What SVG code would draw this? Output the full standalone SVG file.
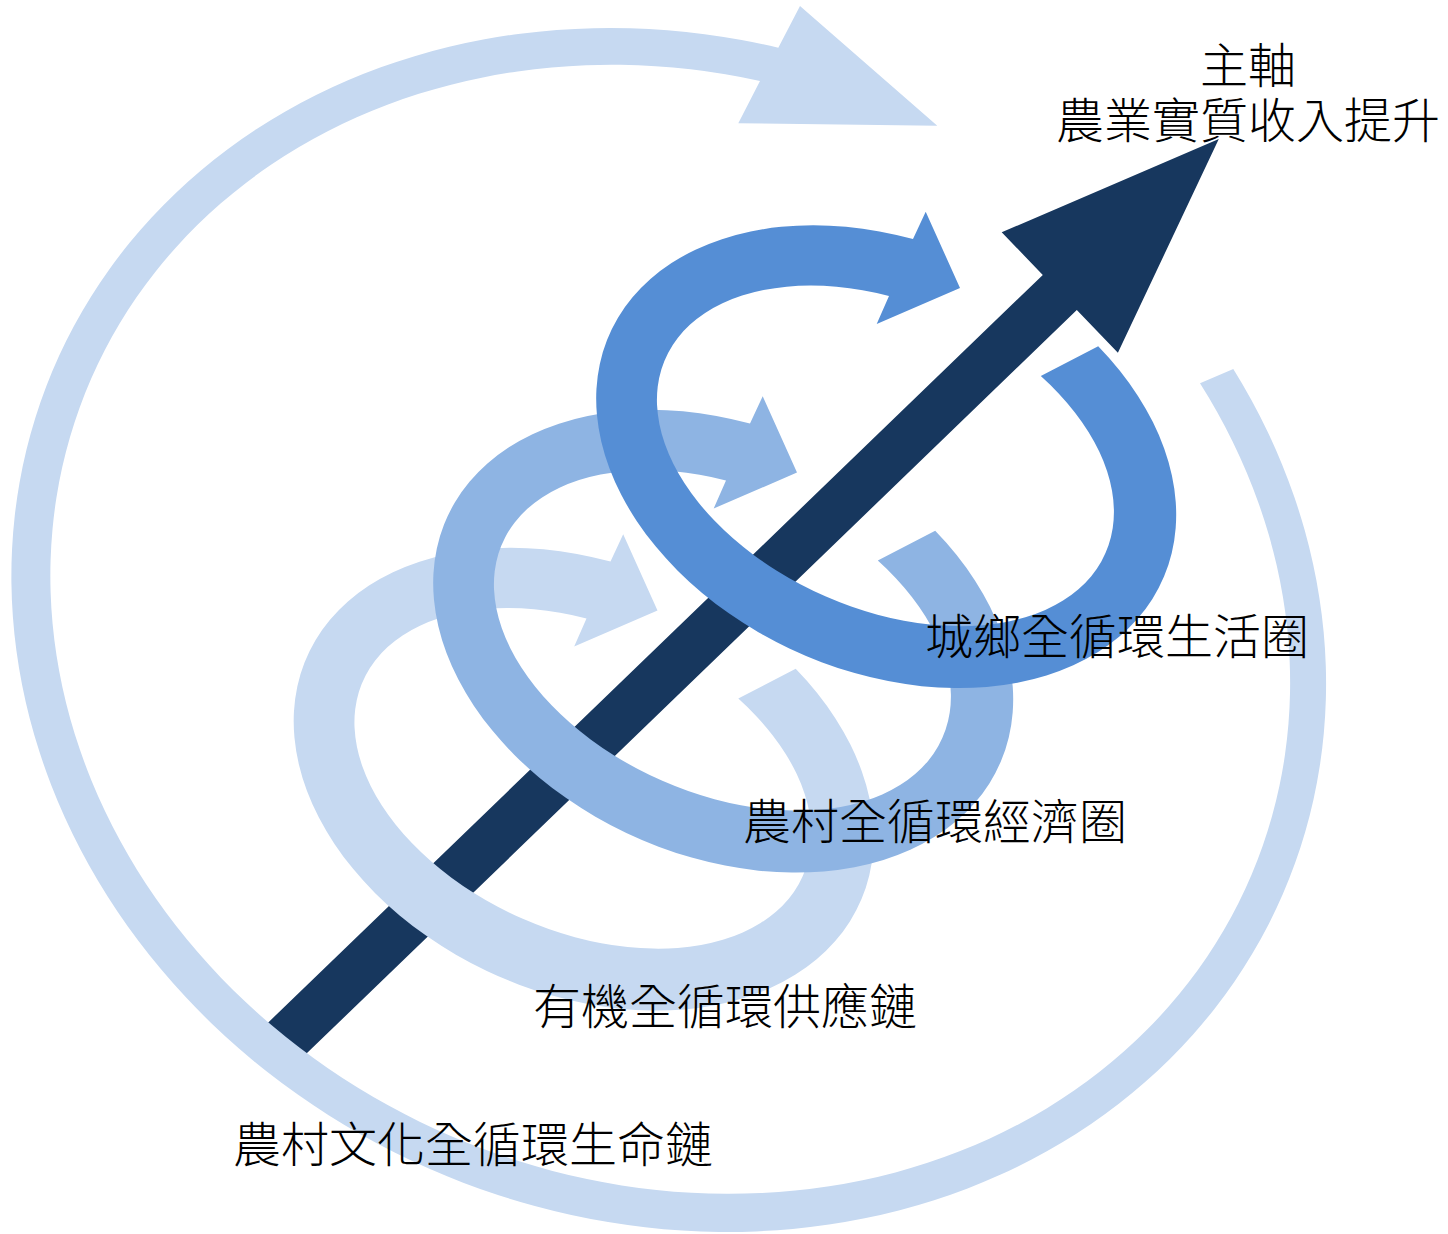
<svg xmlns="http://www.w3.org/2000/svg" width="1448" height="1234" viewBox="0 0 1448 1234">
<style>
  text { font-family: "Noto Sans CJK TC", "Noto Sans CJK SC", sans-serif; font-size: 48px; fill: #000000; font-weight: 300; }
  .c-light { fill: #C6D9F1; }
  .c-mid { fill: #8EB4E3; }
  .c-dark { fill: #558ED5; }
  .c-axis { fill: #17375E; }
</style>
<defs>
  <path id="ring" d="M 1098.2 346.3 A 302.6 214.7 23.9 1 1 913 239 L 925.7 211.7 L 960 288 L 876.7 324 L 889 296 A 240.6 152.7 23.9 1 0 1040.8 376.1 Z"/>
</defs>
<rect width="1448" height="1234" fill="#ffffff"/>
<g id="connectors">
  <polygon id="main-axis-arrow" class="c-axis" points="262.1,1028.4 1042.8,274.9 1001.7,232.3 1218.8,139 1117.9,352.7 1076.8,310.1 296.1,1063.6"/>
</g>
<g id="main-axis">
  <text text-anchor="middle"><tspan x="1248" y="83">主軸</tspan><tspan x="1248" y="138">農業實質收入提升</tspan></text>
</g>
<g id="culture-chain">
  <path class="c-light" d="M 1233.3 369 A 668.5 589.6 22.7 1 1 778.3 47.7 L 800 6 L 937.3 125.7 L 738.3 123.3 L 760 81 A 631 552.1 22.7 1 0 1200 383.3 Z"/>
  <text x="233" y="1162">農村文化全循環生命鏈</text>
</g>
<g id="organic-supply-chain">
  <use href="#ring" class="c-light" transform="translate(-302.5,322.5)"/>
  <text x="533" y="1024">有機全循環供應鏈</text>
</g>
<g id="rural-economy">
  <use href="#ring" class="c-mid" transform="translate(-163,184.5)"/>
  <text x="743" y="839">農村全循環經濟圈</text>
</g>
<g id="urban-rural-life">
  <use href="#ring" class="c-dark"/>
  <text x="925" y="654">城鄉全循環生活圈</text>
</g>
</svg>
